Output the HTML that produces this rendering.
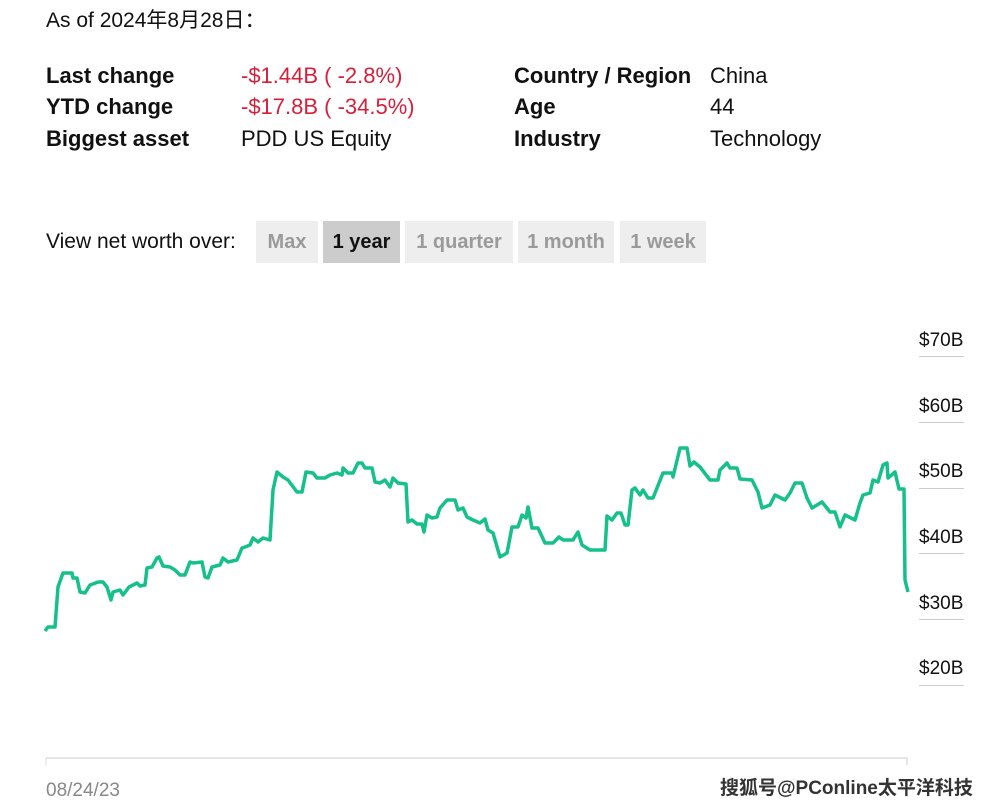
<!DOCTYPE html>
<html><head><meta charset="utf-8"><style>
body{margin:0;width:994px;height:810px;background:#fff;position:relative;overflow:hidden;font-family:"Liberation Sans","Noto Sans CJK SC",sans-serif;color:#111}
.t{position:absolute;white-space:nowrap;line-height:1}
.h{font-size:22px}
.r{color:#d61f3a}
.btn{position:absolute;top:221px;height:42px;background:#eee;color:#9a9a9a;font-weight:bold;font-size:20px;line-height:42px;text-align:center}
.y{position:absolute;left:919px;font-size:19px;line-height:1}
.g{position:absolute;left:919px;width:45px;height:1px;background:#ccc}
</style></head><body>
<div class="t" style="left:46px;top:10px;font-size:21px">As of 2024年8月28日：</div>
<div class="t h" style="left:46px;top:65px;font-weight:600">Last change</div>
<div class="t h" style="left:46px;top:96px;font-weight:600">YTD change</div>
<div class="t h" style="left:46px;top:128px;font-weight:600">Biggest asset</div>
<div class="t h r" style="left:241px;top:65px">-$1.44B ( -2.8%)</div>
<div class="t h r" style="left:241px;top:96px">-$17.8B ( -34.5%)</div>
<div class="t h" style="left:241px;top:128px">PDD US Equity</div>
<div class="t h" style="left:514px;top:65px;font-weight:600">Country / Region</div>
<div class="t h" style="left:514px;top:96px;font-weight:600">Age</div>
<div class="t h" style="left:514px;top:128px;font-weight:600">Industry</div>
<div class="t h" style="left:710px;top:65px">China</div>
<div class="t h" style="left:710px;top:96px">44</div>
<div class="t h" style="left:710px;top:128px">Technology</div>
<div class="t" style="left:46px;top:231px;font-size:21px">View net worth over:</div>
<div class="btn" style="left:256px;width:62px">Max</div>
<div class="btn" style="left:323px;width:77px;background:#ccc;color:#111">1 year</div>
<div class="btn" style="left:405px;width:108px">1 quarter</div>
<div class="btn" style="left:518px;width:96px">1 month</div>
<div class="btn" style="left:620px;width:86px">1 week</div>
<div class="y" style="top:331px">$70B</div><div class="g" style="top:356px"></div>
<div class="y" style="top:397px">$60B</div><div class="g" style="top:422px"></div>
<div class="y" style="top:462px">$50B</div><div class="g" style="top:488px"></div>
<div class="y" style="top:528px">$40B</div><div class="g" style="top:553px"></div>
<div class="y" style="top:594px">$30B</div><div class="g" style="top:619px"></div>
<div class="y" style="top:659px">$20B</div><div class="g" style="top:685px"></div>
<svg style="position:absolute;left:0;top:0" width="994" height="810">
<line x1="46" y1="758" x2="907" y2="758" stroke="#ddd" stroke-width="1.5"/>
<line x1="907" y1="758" x2="907" y2="765" stroke="#ddd" stroke-width="1.5"/>
<line x1="46" y1="758" x2="46" y2="765" stroke="#ddd" stroke-width="1"/>
<polyline fill="none" stroke="#15c08a" stroke-width="3.5" stroke-linejoin="round" points="45,631 48,627 55,627 58,587 63,573 72,573 73,578 77,578 80,592 85,593 90,585 93,584 98,582 103,582 107,587 111,600 113,592 120,590 123,595 129,587 137,583 140,586 145,585 147,568 152,567 157,558 159,557 163,566 170,567 175,570 180,575 185,575 190,562 193,563 202,562 205,577 208,578 212,567 220,565 223,558 228,562 237,560 242,548 245,547 250,545 253,538 258,542 263,538 270,540 273,490 277,472 283,477 288,480 297,492 302,492 306,472 313,473 317,478 325,478 330,475 337,473 342,475 343,468 348,473 353,473 358,463 362,463 365,468 372,468 375,482 380,483 385,480 390,487 393,478 398,483 406,484 408,522 412,520 417,524 422,524 424,532 427,515 432,518 437,517 440,508 447,500 455,500 458,510 463,508 467,517 473,520 480,523 485,519 488,530 493,533 500,557 507,553 512,527 518,527 522,515 526,518 528,507 532,528 538,528 545,543 553,543 559,537 563,540 573,540 578,532 582,545 590,550 605,550 607,516 612,520 617,513 621,513 625,525 628,525 632,490 635,488 640,495 643,490 648,498 653,498 663,473 672,473 673,477 680,448 687,448 690,466 694,462 700,467 710,480 718,480 720,470 727,463 730,468 737,468 740,479 752,480 758,492 762,508 770,505 775,495 785,500 790,493 795,483 802,483 807,498 812,508 822,502 830,512 835,512 840,527 845,515 855,520 860,503 863,495 870,493 873,480 878,482 883,465 887,463 888,478 895,472 899,489 904,489 905,580 908,592"/>
</svg>
<div class="t" style="left:46px;top:781px;font-size:19px;color:#888">08/24/23</div>
<div class="t" style="left:720px;top:779px;font-size:19px;color:#333;font-weight:bold">搜狐号@PConline太平洋科技</div>
</body></html>
